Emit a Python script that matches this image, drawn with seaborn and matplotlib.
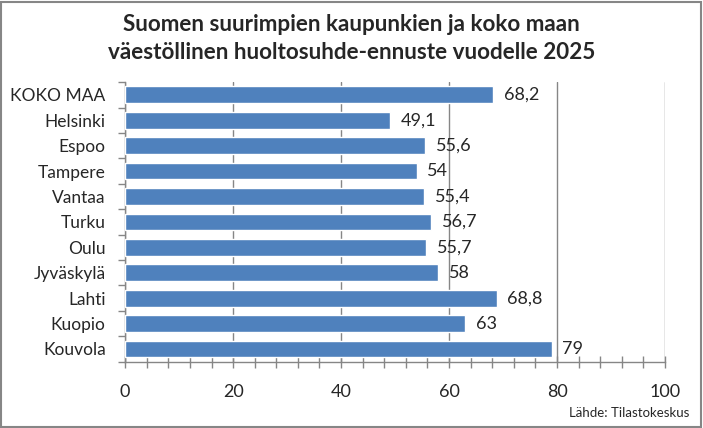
import numpy as np
import pandas as pd
import matplotlib.pyplot as plt
import seaborn as sns
from matplotlib.ticker import MultipleLocator
from matplotlib.patches import Rectangle

# data
cities = ["KOKO MAA", "Helsinki", "Espoo", "Tampere", "Vantaa", "Turku",
          "Oulu", "Jyväskylä", "Lahti", "Kuopio", "Kouvola"]
values = [68.2, 49.1, 55.6, 54.0, 55.4, 56.7, 55.7, 58.0, 68.8, 63.0, 79.0]
labels = ["68,2", "49,1", "55,6", "54", "55,4", "56,7", "55,7", "58", "68,8", "63", "79"]

df = pd.DataFrame({"city": cities, "value": values})

sns.set_style("white")
plt.rcParams['font.family'] = ['Lato', 'DejaVu Sans']

fig = plt.figure(figsize=(7.03, 4.28), dpi=100)
ax = fig.add_axes([0.178, 0.155, 0.768, 0.653])

sns.barplot(data=df, x="value", y="city", color="#4F81BD", width=0.66,
            saturation=1, ax=ax, zorder=3)

for i, (v, lab) in enumerate(zip(values, labels)):
    ax.text(v + 2.0, i, lab, va="center", ha="left", fontsize=13, zorder=4)

ax.set_xlim(0, 100)
ax.set_ylim(len(cities) - 0.5, -0.5)
ax.xaxis.set_major_locator(MultipleLocator(20))
ax.xaxis.set_minor_locator(MultipleLocator(4))
ax.grid(axis="x", which="major", color="#868686", linewidth=1, linestyle="-", zorder=0)
ax.grid(axis="y", visible=False)
ax.set_xlabel("")
ax.set_ylabel("")

for s in ["top", "right"]:
    ax.spines[s].set_visible(False)
for s in ["left", "bottom"]:
    ax.spines[s].set_color("#868686")
    ax.spines[s].set_linewidth(1)

ax.tick_params(axis="x", which="both", bottom=True, direction="inout", length=8,
               width=1, color="#868686", labelsize=13, pad=12)
ax.tick_params(axis="y", which="major", left=True, length=0, labelsize=12.5, pad=14)
# y tick marks between the categories
ax.set_yticks(np.arange(-0.5, len(cities) - 0.4, 1), minor=True)
ax.tick_params(axis="y", which="minor", left=True, direction="out", length=5,
               width=1, color="#868686")

fig.suptitle("Suomen suurimpien kaupunkien ja koko maan\nväestöllinen huoltosuhde-ennuste vuodelle 2025",
             y=0.968, fontsize=16.2, fontweight="bold", linespacing=1.45)
fig.text(0.98, 0.022, "Lähde: Tilastokeskus", ha="right", va="bottom", fontsize=9.5)

fig.patches.append(Rectangle((0.002, 0.003), 0.995, 0.993, transform=fig.transFigure,
                             fill=False, edgecolor="#868686", linewidth=1.5))

fig.savefig("out.png", dpi=100)
